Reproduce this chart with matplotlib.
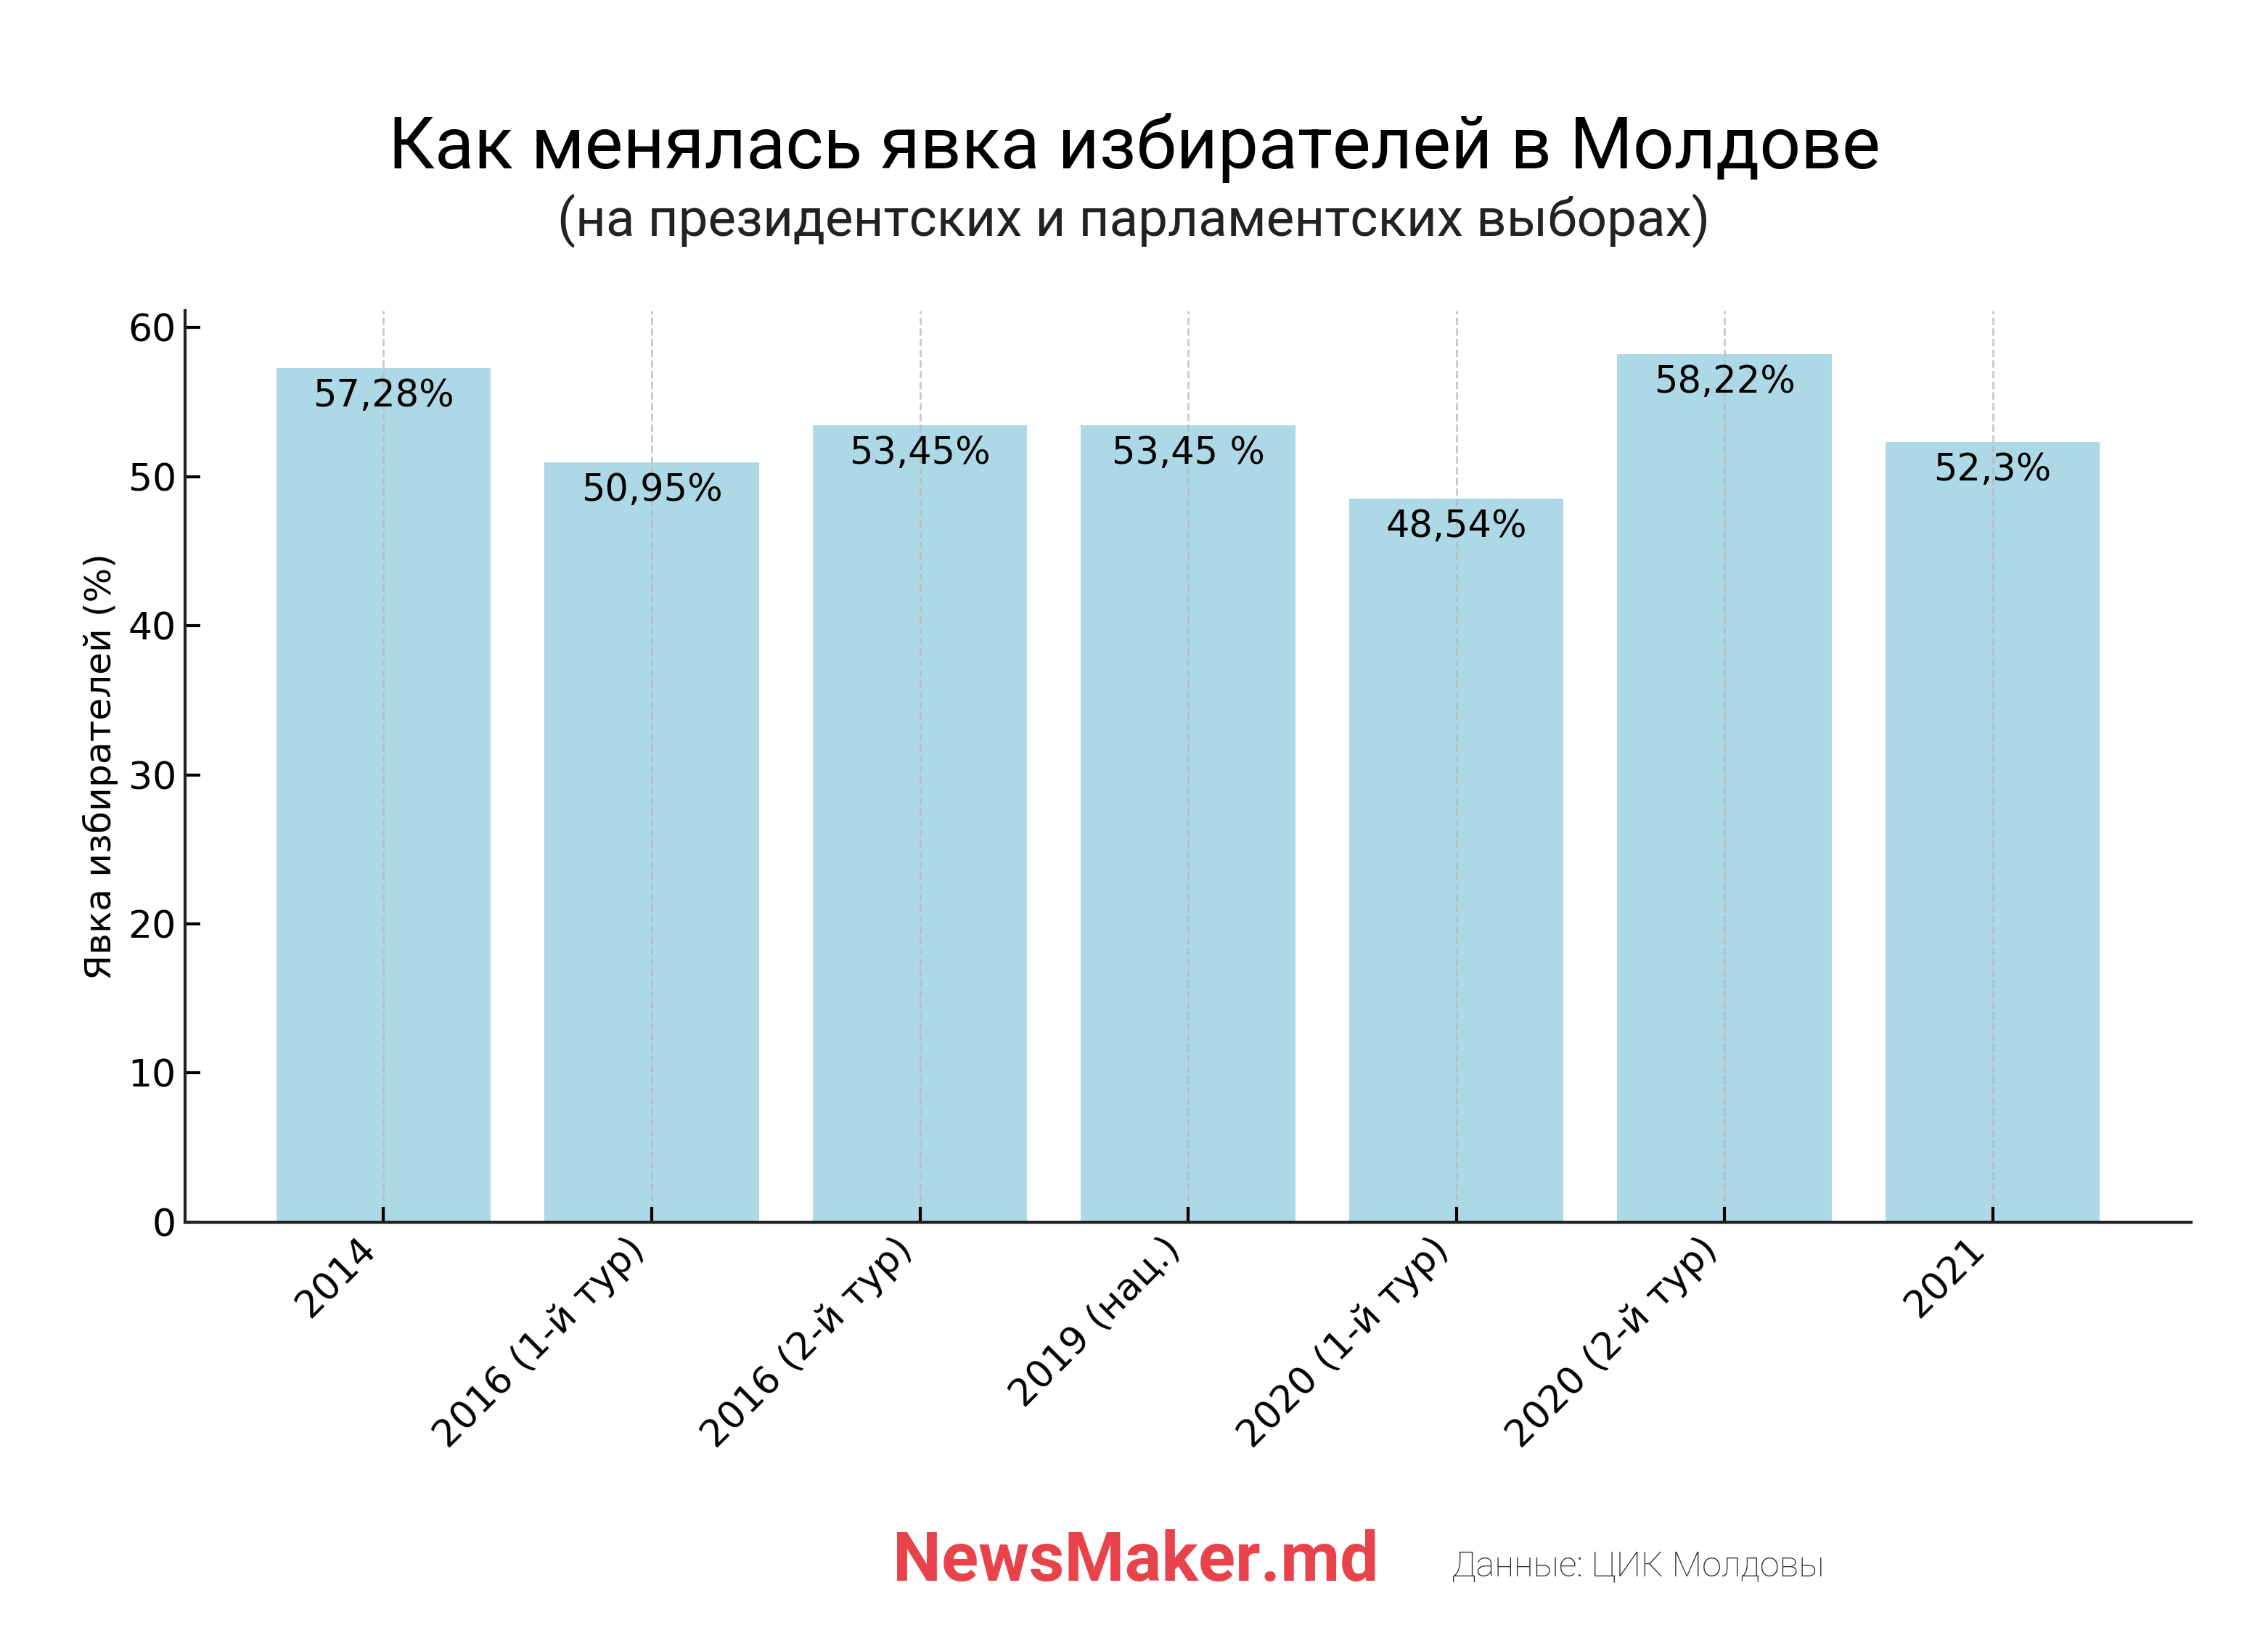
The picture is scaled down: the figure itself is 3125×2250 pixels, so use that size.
import matplotlib
matplotlib.use('Agg')
import matplotlib.pyplot as plt

# Data
labels = ['2014', '2016 (1-й тур)', '2016 (2-й тур)', '2019 (нац.)',
          '2020 (1-й тур)', '2020 (2-й тур)', '2021']
turnout = [57.28, 50.95, 53.45, 53.45, 48.54, 58.22, 52.3]
value_text = ['57,28%', '50,95%', '53,45%', '53,45 %', '48,54%', '58,22%', '52,3%']

title = 'Как менялась явка избирателей в Молдове'
subtitle = '(на президентских и парламентских выборах)'
ylabel = 'Явка избирателей (%)'
source = 'Данные: ЦИК Молдовы'
logo = 'NewsMaker.md'

fig = plt.figure(figsize=(12.5, 9), dpi=250)
ax = fig.add_axes([0.0816, 0.2516, 0.8845, 0.5582])

x = range(len(labels))
bars = ax.bar(x, turnout, width=0.8, color='#ADD8E6')

for bar, txt in zip(bars, value_text):
    h = bar.get_height()
    ax.text(bar.get_x() + bar.get_width() / 2, h - 1.9, txt,
            ha='center', va='center', fontsize=14.7, color='black')

ax.set_xticks(list(x))
ax.set_xticklabels(labels, rotation=45, ha='right', fontsize=15)
ax.tick_params(axis='y', labelsize=15, direction='in', length=6, width=1.2)
ax.tick_params(axis='x', direction='in', length=6, width=1.2)
ax.set_ylabel(ylabel, fontsize=14.5)

ax.grid(axis='x', linestyle='--', color='#bbbbbb', linewidth=0.8, alpha=0.8)
ax.grid(axis='y', visible=False)

for s in ['top', 'right']:
    ax.spines[s].set_visible(False)
for s in ['left', 'bottom']:
    ax.spines[s].set_linewidth(1.2)
    ax.spines[s].set_color('#222222')

fig.text(0.5, 0.897, title, ha='center', va='baseline',
         fontsize=28.7, family='Roboto', color='black')
fig.text(0.5, 0.856, subtitle, ha='center', va='baseline',
         fontsize=21, family='Roboto', color='#222222')

fig.text(0.3935, 0.032, logo, ha='left', va='baseline',
         fontsize=27.3, family='Roboto', fontweight='bold', color='#E8424A')
fig.text(0.64, 0.035, source, ha='left', va='baseline',
         fontsize=14, family='Roboto', fontweight='light', color='#222222')

plt.savefig('out.png', dpi=250)
